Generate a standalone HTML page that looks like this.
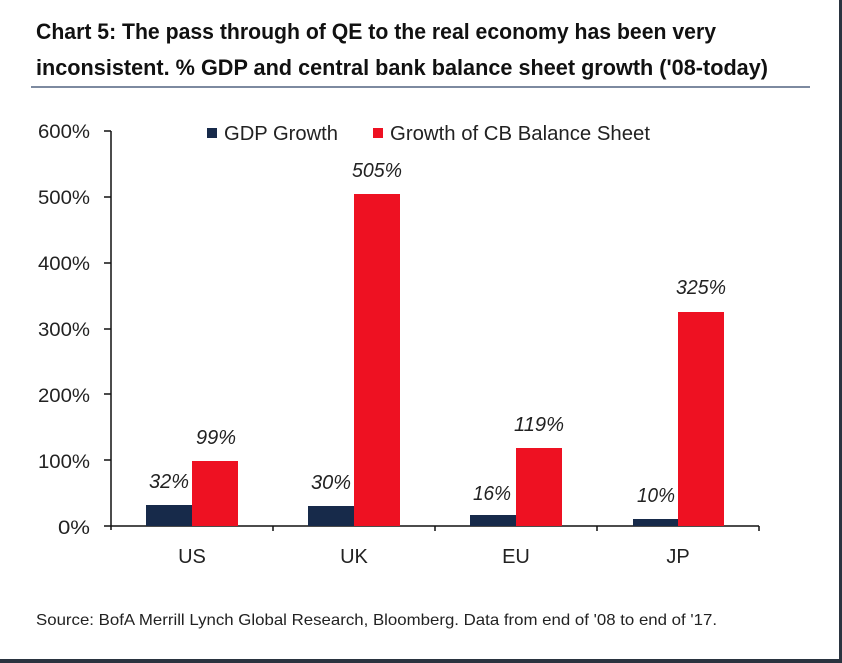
<!DOCTYPE html>
<html><head><meta charset="utf-8"><style>
html,body{margin:0;padding:0;background:#fff;}
svg{display:block;}
text{font-family:"Liberation Sans",Arial,sans-serif;}
</style></head><body>
<svg width="842" height="663" viewBox="0 0 842 663" xmlns="http://www.w3.org/2000/svg">
<rect width="842" height="663" fill="#fff"/>
<rect x="839" y="0" width="3" height="663" fill="#2a3440"/>
<rect x="0" y="659" width="842" height="4" fill="#2a3440"/>
<text x="36" y="39" font-size="22" font-weight="bold" fill="#111" textLength="680" lengthAdjust="spacingAndGlyphs">Chart 5: The pass through of QE to the real economy has been very</text>
<text x="36" y="75" font-size="22" font-weight="bold" fill="#111" textLength="732" lengthAdjust="spacingAndGlyphs">inconsistent. % GDP and central bank balance sheet growth ('08-today)</text>
<rect x="31" y="86" width="779" height="2" fill="#7d8aa0"/>
<g font-size="19" fill="#222">
<text x="38" y="138" textLength="52" lengthAdjust="spacingAndGlyphs">600%</text>
<text x="38" y="204" textLength="52" lengthAdjust="spacingAndGlyphs">500%</text>
<text x="38" y="270" textLength="52" lengthAdjust="spacingAndGlyphs">400%</text>
<text x="38" y="336" textLength="52" lengthAdjust="spacingAndGlyphs">300%</text>
<text x="38" y="402" textLength="52" lengthAdjust="spacingAndGlyphs">200%</text>
<text x="38" y="468" textLength="52" lengthAdjust="spacingAndGlyphs">100%</text>
<text x="58" y="534" textLength="32" lengthAdjust="spacingAndGlyphs">0%</text>
</g>
<g stroke="#111" stroke-width="1.5">
<line x1="111" y1="131" x2="111" y2="530"/>
<line x1="104" y1="131" x2="111" y2="131"/><line x1="104" y1="197" x2="111" y2="197"/><line x1="104" y1="263" x2="111" y2="263"/>
<line x1="104" y1="329" x2="111" y2="329"/><line x1="104" y1="394" x2="111" y2="394"/><line x1="104" y1="460" x2="111" y2="460"/><line x1="104" y1="526" x2="111" y2="526"/>
<line x1="111" y1="526" x2="759" y2="526"/>
<line x1="273" y1="526" x2="273" y2="531"/><line x1="435" y1="526" x2="435" y2="531"/><line x1="597" y1="526" x2="597" y2="531"/><line x1="759" y1="526" x2="759" y2="531"/>
</g>
<rect x="207" y="128" width="10" height="10" fill="#172a4a"/>
<text x="224" y="140" font-size="20" fill="#222" textLength="114" lengthAdjust="spacingAndGlyphs">GDP Growth</text>
<rect x="373" y="128" width="10" height="10" fill="#ee1122"/>
<text x="390" y="140" font-size="20" fill="#222" textLength="260" lengthAdjust="spacingAndGlyphs">Growth of CB Balance Sheet</text>
<g fill="#172a4a">
<rect x="146" y="505" width="46" height="21"/><rect x="308" y="506" width="46" height="20"/>
<rect x="470" y="515" width="46" height="11"/><rect x="633" y="519" width="45" height="7"/>
</g>
<g fill="#ee1122">
<rect x="192" y="461" width="46" height="65"/><rect x="354" y="194" width="46" height="332"/>
<rect x="516" y="448" width="46" height="78"/><rect x="678" y="312" width="46" height="214"/>
</g>
<g font-size="20" font-style="italic" fill="#222">
<text x="196" y="444" textLength="40" lengthAdjust="spacingAndGlyphs">99%</text>
<text x="149" y="488" textLength="40" lengthAdjust="spacingAndGlyphs">32%</text>
<text x="352" y="177" textLength="50" lengthAdjust="spacingAndGlyphs">505%</text>
<text x="311" y="489" textLength="40" lengthAdjust="spacingAndGlyphs">30%</text>
<text x="514" y="431" textLength="50" lengthAdjust="spacingAndGlyphs">119%</text>
<text x="473" y="500" textLength="38" lengthAdjust="spacingAndGlyphs">16%</text>
<text x="676" y="294" textLength="50" lengthAdjust="spacingAndGlyphs">325%</text>
<text x="637" y="502" textLength="38" lengthAdjust="spacingAndGlyphs">10%</text>
</g>
<g font-size="20" fill="#222" text-anchor="middle">
<text x="192" y="563">US</text><text x="354" y="563">UK</text><text x="516" y="563">EU</text><text x="678" y="563">JP</text>
</g>
<text x="36" y="625" font-size="16" fill="#222" textLength="681" lengthAdjust="spacingAndGlyphs">Source: BofA Merrill Lynch Global Research, Bloomberg. Data from end of '08 to end of '17.</text>
</svg>
</body></html>
